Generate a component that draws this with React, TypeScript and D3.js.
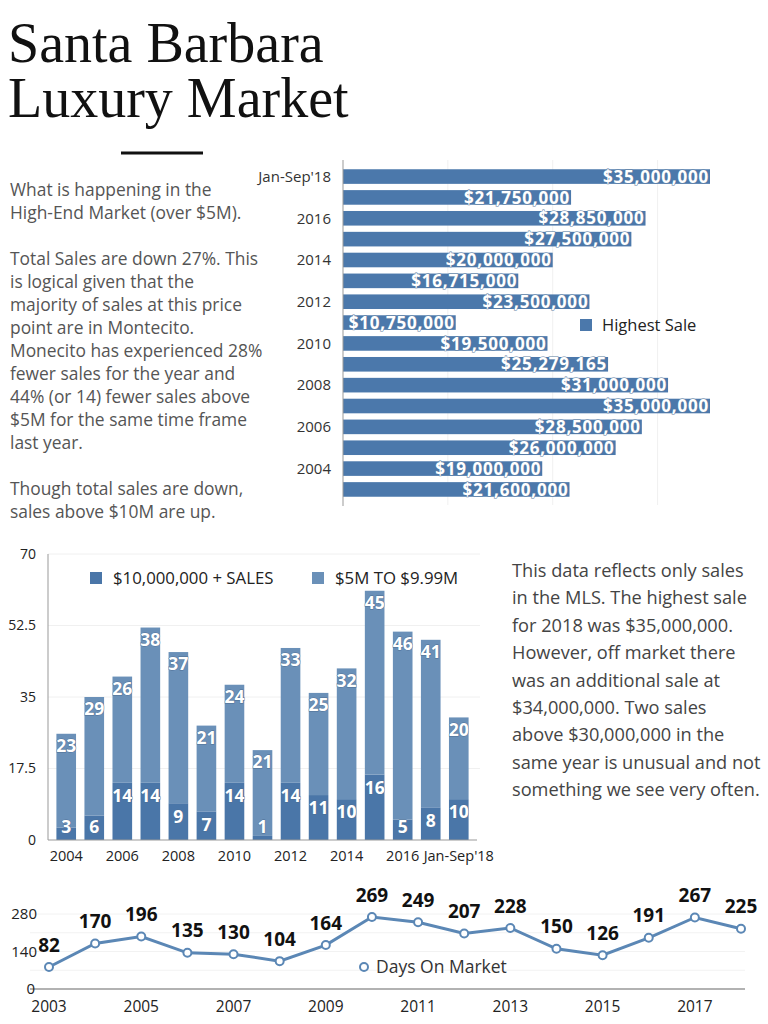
import * as d3 from "d3";
import React, {useEffect, useRef} from "react";

// highest sale per year (top chart, newest first)
const saleYears = ["Jan-Sep'18", "2017", "2016", "2015", "2014", "2013", "2012", "2011",
  "2010", "2009", "2008", "2007", "2006", "2005", "2004", "2003"];
const highestSale = [35000000, 21750000, 28850000, 27500000, 20000000, 16715000, 23500000, 10750000,
  19500000, 25279165, 31000000, 35000000, 28500000, 26000000, 19000000, 21600000];
const saleTickLabels = ["Jan-Sep'18", "2016", "2014", "2012", "2010", "2008", "2006", "2004"];

// stacked sales counts
const countYears = ["2004", "2005", "2006", "2007", "2008", "2009", "2010", "2011",
  "2012", "2013", "2014", "2015", "2016", "2017", "Jan-Sep'18"];
const over10M = [3, 6, 14, 14, 9, 7, 14, 1, 14, 11, 10, 16, 5, 8, 10];
const from5To10M = [23, 29, 26, 38, 37, 21, 24, 21, 33, 25, 32, 45, 46, 41, 20];
const countTicks = [0, 17.5, 35, 52.5, 70];
const countTickLabels = ["2004", "2006", "2008", "2010", "2012", "2014", "2016", "Jan-Sep'18"];

// days on market
const domYears = [2003, 2004, 2005, 2006, 2007, 2008, 2009, 2010, 2011, 2012, 2013, 2014, 2015, 2016, 2017, 2018];
const daysOnMarket = [82, 170, 196, 135, 130, 104, 164, 269, 249, 207, 228, 150, 126, 191, 267, 225];
const domTicks = [0, 140, 280];
const domTickLabels = [2003, 2005, 2007, 2009, 2011, 2013, 2015, 2017];

const leftText = [
  "What is happening in the",
  "High-End Market (over $5M).",
  "",
  "Total Sales are down 27%. This",
  "is logical given that the",
  "majority of sales at this price",
  "point are in Montecito.",
  "Monecito has experienced 28%",
  "fewer sales for the year and",
  "44% (or 14) fewer sales above",
  "$5M for the same time frame",
  "last year.",
  "",
  "Though total sales are down,",
  "sales above $10M are up.",
];

const rightText = [
  "This data reflects only sales",
  "in the MLS. The highest sale",
  "for 2018 was $35,000,000.",
  "However, off market there",
  "was an additional sale at",
  "$34,000,000. Two sales",
  "above $30,000,000 in the",
  "same year is unusual and not",
  "something we see very often.",
];

const FONT = "'Open Sans', Lato, sans-serif";
const BAR = "#4b78ab";
const DARK = "#4a76a8";
const LIGHT = "#6a90b8";
const LINE = "#5b87b5";

const App: React.FC = () => {
  const ref = useRef<SVGSVGElement | null>(null);

  useEffect(() => {
    const svg = d3.select(ref.current);
    svg.selectAll('*').remove();
    svg.style('font-family', FONT);

    // title
    const title = svg.append('g').attr('font-family', "'Liberation Serif', serif").attr('fill', '#111');
    title.append('text').attr('x', 8).attr('y', 62).style('font-size', '56px').text('Santa Barbara');
    title.append('text').attr('x', 8).attr('y', 117).style('font-size', '56px').text('Luxury Market');
    svg.append('line').attr('x1', 121).attr('x2', 203).attr('y1', 153).attr('y2', 153)
      .attr('stroke', '#111').attr('stroke-width', 3);

    // paragraphs
    svg.append('g').selectAll('text').data(leftText).enter().append('text')
      .attr('x', 10).attr('y', (_, i) => 196 + i * 23)
      .attr('fill', '#555').style('font-size', '17.4px').text((d) => d);

    svg.append('g').selectAll('text').data(rightText).enter().append('text')
      .attr('x', 512).attr('y', (_, i) => 577 + i * 27.4)
      .attr('fill', '#444').style('font-size', '18.2px').text((d) => d);

    // ---- highest sale bars ----
    const yTop = d3.scaleBand<string>().domain(saleYears).range([163, 503]).padding(0.3);
    const xTop = d3.scaleLinear().domain([0, 35000000]).range([343, 710]);

    svg.append('g').selectAll('line').data([10000000, 20000000, 30000000]).enter().append('line')
      .attr('x1', (d) => xTop(d)).attr('x2', (d) => xTop(d))
      .attr('y1', 160).attr('y2', 505).attr('stroke', '#f0f0f0');

    const topBars = svg.append('g').selectAll('g').data(saleYears).enter().append('g')
      .attr('transform', (d) => `translate(0, ${yTop(d)})`);
    topBars.append('rect')
      .attr('x', xTop(0))
      .attr('width', (_, i) => xTop(highestSale[i]) - xTop(0))
      .attr('height', yTop.bandwidth())
      .attr('fill', BAR);
    topBars.append('text')
      .attr('x', (_, i) => xTop(highestSale[i]) - 1)
      .attr('y', yTop.bandwidth() / 2)
      .attr('dy', '0.36em')
      .attr('text-anchor', 'end')
      .attr('fill', '#fff')
      .attr('stroke', '#5f7fa3')
      .attr('stroke-width', 1.1)
      .attr('paint-order', 'stroke')
      .style('font-size', '17px')
      .style('letter-spacing', '0.8px')
      .style('font-weight', '700')
      .text((_, i) => '$' + d3.format(',')(highestSale[i]))
      .each(function (_, i) {
        // labels longer than their bar start at the axis instead
        const w = (this as SVGTextElement).getComputedTextLength();
        if (w + 2 > xTop(highestSale[i]) - xTop(0)) {
          d3.select(this).attr('x', xTop(0) + 1).attr('text-anchor', 'start');
        }
      });

    svg.append('line').attr('x1', 343).attr('x2', 343).attr('y1', 160).attr('y2', 506)
      .attr('stroke', '#999');
    svg.append('g').selectAll('text').data(saleTickLabels).enter().append('text')
      .attr('x', 331).attr('y', (d) => (yTop(d) || 0) + yTop.bandwidth() / 2)
      .attr('dy', '0.35em').attr('text-anchor', 'end')
      .attr('fill', '#333').style('font-size', '15px').text((d) => d);

    svg.append('rect').attr('x', 580).attr('y', 319).attr('width', 12).attr('height', 12).attr('fill', BAR);
    svg.append('text').attr('x', 602).attr('y', 325).attr('dy', '0.35em')
      .attr('fill', '#222').style('font-size', '16.5px').text('Highest Sale');

    // ---- stacked counts ----
    const xMid = d3.scaleBand<string>().domain(countYears).range([48, 477]).padding(0.3);
    const yMid = d3.scaleLinear().domain([0, 70]).range([840, 554]);

    svg.append('g').selectAll('line').data(countTicks.slice(1)).enter().append('line')
      .attr('x1', 48).attr('x2', 480).attr('y1', (d) => yMid(d)).attr('y2', (d) => yMid(d))
      .attr('stroke', '#f0f0f0');

    const stack = d3.stack<number>().keys(['over', 'mid'])
      .value((i, key) => key === 'over' ? over10M[i] : from5To10M[i]);
    const series = stack(countYears.map((_, i) => i));
    const colors = [DARK, LIGHT];

    series.forEach((s, si) => {
      svg.append('g').selectAll('rect').data(s).enter().append('rect')
        .attr('x', (_, i) => xMid(countYears[i]) || 0)
        .attr('width', xMid.bandwidth())
        .attr('y', (d) => yMid(d[1]))
        .attr('height', (d) => yMid(d[0]) - yMid(d[1]))
        .attr('fill', colors[si]);
    });
    series.forEach((s, si) => {
      svg.append('g').selectAll('text').data(s).enter().append('text')
        .attr('x', (_, i) => (xMid(countYears[i]) || 0) + xMid.bandwidth() / 2)
        .attr('y', (d) => si === 0 ? Math.min(yMid(d[1]) + 13, 827) : yMid(d[1]) + 12)
        .attr('dy', '0.36em')
        .attr('text-anchor', 'middle')
        .attr('fill', '#fff')
        .attr('stroke', '#4f6f94')
        .attr('stroke-width', 0.8)
        .attr('paint-order', 'stroke')
        .style('font-size', '17.5px')
        .style('font-weight', '700')
        .text((d) => d[1] - d[0]);
    });

    svg.append('line').attr('x1', 48).attr('x2', 48).attr('y1', 554).attr('y2', 840).attr('stroke', '#999');
    svg.append('line').attr('x1', 48).attr('x2', 477).attr('y1', 840).attr('y2', 840).attr('stroke', '#999');
    svg.append('g').selectAll('text').data(countTicks).enter().append('text')
      .attr('x', 36).attr('y', (d) => yMid(d)).attr('dy', '0.35em').attr('text-anchor', 'end')
      .attr('fill', '#222').style('font-size', '14px').text((d) => d);
    svg.append('g').selectAll('text').data(countTickLabels).enter().append('text')
      .attr('x', (d) => (xMid(d) || 0) + xMid.bandwidth() / 2)
      .attr('y', 856).attr('dy', '0.35em').attr('text-anchor', 'middle')
      .attr('fill', '#222').style('font-size', '14.5px').text((d) => d);

    const leg = svg.append('g').style('font-size', '16.8px').attr('fill', '#222');
    leg.append('rect').attr('x', 90).attr('y', 572).attr('width', 12).attr('height', 12).attr('fill', DARK);
    leg.append('text').attr('x', 113).attr('y', 578).attr('dy', '0.35em').text('$10,000,000 + SALES');
    leg.append('rect').attr('x', 312).attr('y', 572).attr('width', 12).attr('height', 12).attr('fill', LIGHT);
    leg.append('text').attr('x', 335).attr('y', 578).attr('dy', '0.35em').text('$5M TO $9.99M');

    // ---- days on market ----
    const xLow = d3.scalePoint<number>().domain(domYears).range([49, 741]);
    const yLow = d3.scaleLinear().domain([0, 280]).range([989, 914]);

    svg.append('g').selectAll('line').data([70, 140, 210, 280]).enter().append('line')
      .attr('x1', 30).attr('x2', 745).attr('y1', (d) => yLow(d)).attr('y2', (d) => yLow(d))
      .attr('stroke', '#f2f2f2');
    svg.append('line').attr('x1', 30).attr('x2', 745).attr('y1', 989).attr('y2', 989)
      .attr('stroke', '#666').attr('stroke-width', 1.2);

    svg.append('g').selectAll('text').data(domTicks).enter().append('text')
      .attr('x', (d) => d === 0 ? 35 : 37).attr('y', (d) => yLow(d))
      .attr('dy', '0.35em').attr('text-anchor', 'end')
      .attr('fill', '#222').style('font-size', '15px').text((d) => d);

    const line = d3.line<number>().x((_, i) => xLow(domYears[i]) || 0).y((d) => yLow(d));
    svg.append('path').datum(daysOnMarket).attr('d', line)
      .attr('fill', 'none').attr('stroke', LINE).attr('stroke-width', 3);
    svg.append('g').selectAll('circle').data(daysOnMarket).enter().append('circle')
      .attr('cx', (_, i) => xLow(domYears[i]) || 0).attr('cy', (d) => yLow(d)).attr('r', 4)
      .attr('fill', '#fff').attr('stroke', LINE).attr('stroke-width', 2);
    svg.append('g').selectAll('text').data(daysOnMarket).enter().append('text')
      .attr('x', (_, i) => xLow(domYears[i]) || 0).attr('y', (d) => yLow(d) - 22)
      .attr('dy', '0.35em').attr('text-anchor', 'middle')
      .attr('fill', '#111').style('font-size', '19px').style('font-weight', '700')
      .text((d) => d);

    svg.append('g').selectAll('text').data(domTickLabels).enter().append('text')
      .attr('x', (d) => xLow(d) || 0).attr('y', 1007).attr('dy', '0.35em').attr('text-anchor', 'middle')
      .attr('fill', '#222').style('font-size', '15.5px').text((d) => d);

    svg.append('circle').attr('cx', 364).attr('cy', 967).attr('r', 4)
      .attr('fill', '#fff').attr('stroke', LINE).attr('stroke-width', 2);
    svg.append('text').attr('x', 376).attr('y', 967).attr('dy', '0.35em')
      .attr('fill', '#333').style('font-size', '17.5px').text('Days On Market');

    return () => {
      svg.selectAll('*').remove();
    };
  }, []);

  return <svg ref={ref} width={768} height={1024}
    style={{position: 'absolute', left: 0, top: 0, background: '#fff'}} />;
};

export default App;
